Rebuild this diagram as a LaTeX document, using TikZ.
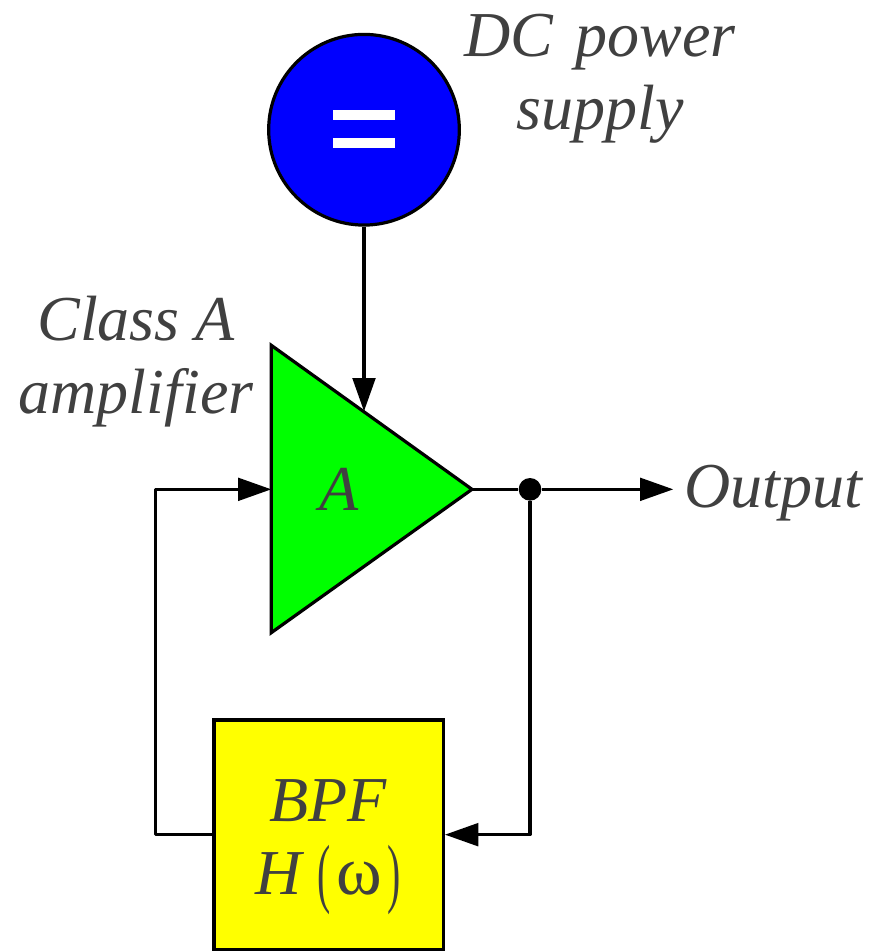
\documentclass[tikz,border=0pt]{standalone}
\usepackage{fontspec}
\setmainfont{Liberation Serif}
\usetikzlibrary{arrows.meta,positioning}
\definecolor{bpfyellow}{RGB}{255,255,0}
\definecolor{textgray}{RGB}{64,64,64}
\newcommand{\tallparen}[1]{\smash{\raisebox{-2.6pt}{\scalebox{0.62}[1.2]{\upshape #1}}}}
\tikzset{
    wire/.style={line width=2.4pt, draw=black},
    flow/.style={wire, -{Triangle[length=25pt,width=17pt]}},
    label/.style={text=textgray, font=\itshape\fontsize{48}{55}\selectfont, align=center, inner sep=0pt}
}
\begin{document}
\begin{tikzpicture}[x=1pt,y=-1pt]
    \useasboundingbox (0,0) rectangle (653.25,714);
    \node[circle, wire, fill=blue, minimum size=143pt, inner sep=0pt] (supply) at (273,97.3) {};
    \fill[white] (250,82.5) rectangle (296,90);
    \fill[white] (250,103.3) rectangle (296,111);
    % amplifier
    \draw[wire, fill=green] (203.5,259) -- (203.5,474.5) -- (354,367) -- cycle;
    \coordinate (amptop) at (273,308.5);
    \coordinate (ampin) at (203.5,367);
    \coordinate (ampout) at (354,367);
    \node[label] (gain) at (254,367) {A};
    % filter
    \node[wire, fill=bpfyellow, minimum width=172pt, minimum height=172pt, inner sep=0pt] (bpf) at (246.5,626) {};
    \node[label] (bpftext) at (246,628) {BPF\\H\hspace{12pt}\tallparen{(}\hspace{4pt}{\fontsize{52}{55}\selectfont\textup{ω}}\hspace{4pt}\tallparen{)}};
    \node[circle, fill=black, minimum size=17pt, inner sep=0pt] (tap) at (397.5,367) {};
    \coordinate (outend) at (505,367);
    \coordinate (bl) at (116.5,626);
    \coordinate (br) at (397.5,626);
    \draw[flow] (supply) -- (amptop);
    \draw[wire] (ampout) -- (tap);
    \draw[flow] (tap) -- (outend);
    \draw[flow, line join=round] (tap) -- (br) -- (bpf.east);
    \draw[flow, line join=round] (bpf.west) -- (bl) |- (ampin);
    \node[label, anchor=west] (output) at (513,370) {Output};
    \node[label] (dc) at (450,59) {DC\hspace{4.5pt} power\\supply};
    \node[label] (amp) at (102,271) {Class A\\amplifier};
\end{tikzpicture}
\end{document}
